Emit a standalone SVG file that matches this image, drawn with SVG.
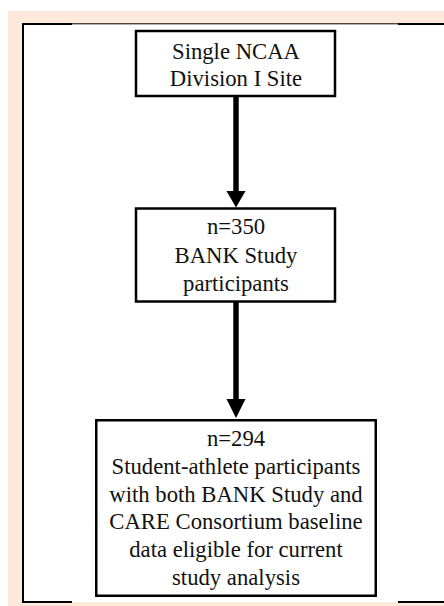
<svg xmlns="http://www.w3.org/2000/svg" width="444" height="606" viewBox="0 0 444 606">
<style>
.box{fill:#ffffff;stroke:#000000;stroke-width:2.5}
.t{font-size:22.7px;fill:#111111;text-anchor:middle}
.shaft{stroke:#000000;stroke-width:5.5;fill:none}
.head{fill:#000000}
</style>
<rect x="0" y="0" width="444" height="606" fill="#ffffff"/>
<rect x="8" y="11" width="436" height="595" fill="#fde9dc"/>
<rect x="24" y="24" width="420" height="578" fill="#ffffff"/>
<g id="frame" fill="#000000">
<rect x="22" y="23" width="2" height="580"/>
<rect x="22" y="23.3" width="422" height="1"/>
<rect x="22" y="23" width="50" height="2"/>
<rect x="398" y="23" width="46" height="2"/>
<rect x="22" y="601" width="50" height="2"/>
<rect x="398" y="601" width="46" height="2"/>
</g>
<g id="connectors">
<line class="shaft" x1="236" y1="96" x2="236" y2="192"/>
<polygon class="head" points="226.5,191 245.5,191 236,207.5"/>
<line class="shaft" x1="236" y1="302" x2="236" y2="400"/>
<polygon class="head" points="226.5,399 245.5,399 236,418"/>
</g>
<g font-family="'Liberation Serif', 'Times New Roman', 'DejaVu Serif', serif">
<g id="node1">
<rect class="box" x="136" y="31" width="199" height="65"/>
<text class="t" x="236" y="58.5">Single NCAA</text>
<text class="t" x="236" y="86">Division I Site</text>
</g>
<g id="node2">
<rect class="box" x="136" y="208.5" width="199" height="93"/>
<text class="t" x="236" y="234.3">n=350</text>
<text class="t" x="236" y="262.8">BANK Study</text>
<text class="t" x="236" y="290.5">participants</text>
</g>
<g id="node3">
<rect class="box" x="96.25" y="420.25" width="279.5" height="175.5"/>
<text class="t" x="236" y="445.5">n=294</text>
<text class="t" x="236" y="473.5">Student-athlete participants</text>
<text class="t" x="236" y="501.5">with both BANK Study and</text>
<text class="t" x="236" y="529.3">CARE Consortium baseline</text>
<text class="t" x="236" y="557.2">data eligible for current</text>
<text class="t" x="236" y="584.5">study analysis</text>
</g>
</g>
</svg>
